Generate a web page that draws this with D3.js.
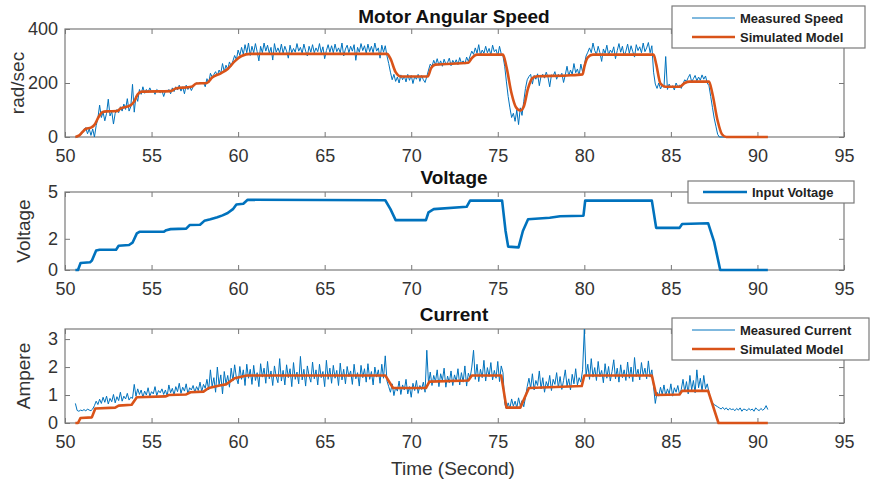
<!DOCTYPE html>
<html>
<head>
<meta charset="utf-8">
<script src="https://cdn.jsdelivr.net/npm/d3@7"></script>
<style>
  body { margin: 0; background: #fff; }
  svg { display: block; font-family: "Liberation Sans", Arial, sans-serif; }
  .tick text { fill: #333; font-size: 18px; }
  .tick line { stroke: #777; }
</style>
</head>
<body>
<div id="chart"></div>
<script>
(function() {
  // sample clock of the measured signals
  var T0 = 50.6, DT = 0.1;
  var xTicks = [50, 55, 60, 65, 70, 75, 80, 85, 90, 95];

  // measured speed, rad/sec, one row per second
  var speedMeasured = [
    0,0,3,8,15,28,35,12,30,6,
    30,0,42,70,118,72,92,60,88,140,
    78,95,48,88,102,90,112,96,122,102,
    142,96,112,195,92,152,132,176,158,186,
    162,176,166,182,168,172,158,176,170,164,
    172,150,170,168,176,160,182,168,186,174,
    192,170,186,160,192,176,188,172,186,196,
    200,198,202,200,202,186,216,200,236,222,
    232,242,226,248,236,272,242,266,250,278,
    262,282,302,286,322,302,332,306,342,312,
    348,302,336,312,346,316,282,336,312,348,
    318,340,310,332,285,346,314,330,312,344,
    310,336,318,292,340,312,328,314,346,318,
    332,310,344,318,300,336,314,342,312,330,
    316,346,312,334,290,320,342,314,338,312,
    344,316,330,312,348,300,326,340,312,336,
    318,342,284,332,314,346,320,338,310,344,
    316,336,312,348,318,330,292,340,314,338,
    300,272,240,212,232,206,222,200,230,212,
    226,204,232,210,228,198,224,214,232,206,
    228,212,202,224,248,270,262,284,268,290,
    266,282,262,288,270,276,292,264,284,272,
    286,268,294,274,282,270,296,280,300,318,
    306,330,310,342,304,322,310,336,312,328,
    304,340,316,324,300,336,308,300,262,204,
    150,108,72,88,58,100,46,108,80,132,
    180,212,224,232,196,228,214,234,190,226,
    232,218,240,222,186,230,226,242,214,232,
    224,236,202,230,262,226,248,232,272,238,
    252,228,270,240,268,300,314,330,312,348,
    320,306,336,312,280,326,310,340,304,322,
    312,334,290,320,346,314,336,300,318,344,
    310,338,316,296,342,320,334,312,348,316,
    330,350,312,338,240,196,180,200,178,192,
    184,298,176,196,182,190,174,200,186,192,
    180,198,212,206,220,232,204,216,228,208,
    222,210,230,214,226,200,190,150,110,70,
    40,10,0,0,0,0,0,0,0,0,
    0,0,0,0,0,0,0,0,0,0,
    0,0,0,0,0,0,0,0,0,0,
    0
  ];

  // simulated speed, [time, rad/sec]
  var speedModel = [
    [50.6,0],[50.8,5],[51.0,18],[51.2,30],[51.5,35],[51.7,45],[51.95,75],[52.15,92],
    [52.4,95],[53.0,96],[53.2,105],[53.8,118],[54.0,132],[54.2,158],[54.45,168],
    [56.1,170],[56.4,180],[57.3,186],[57.6,198],[58.2,200],[58.5,220],[59.0,236],
    [59.4,252],[59.8,280],[60.2,300],[60.7,308],[68.6,308],[68.8,290],[69.1,240],
    [69.4,224],[70.95,224],[71.15,255],[71.4,268],[73.3,275],[73.5,292],[73.8,305],
    [75.3,305],[75.5,260],[75.8,160],[76.05,110],[76.3,98],[76.5,112],[76.75,180],
    [77.0,218],[77.3,225],[79.0,228],[79.9,232],[80.0,260],[80.2,295],[80.5,305],
    [84.0,305],[84.15,270],[84.4,198],[84.7,186],[85.5,186],[85.8,200],[86.1,205],
    [87.2,205],[87.4,160],[87.7,60],[87.95,10],[88.2,0],[90.6,0]
  ];

  // input voltage, [time, volt]
  var voltage = [
    [50.6,0],[50.75,0],[50.9,0.45],[51.45,0.5],[51.55,0.6],[51.8,1.25],[52.0,1.3],
    [52.95,1.3],[53.1,1.55],[53.7,1.6],[53.9,1.75],[54.15,2.35],[54.3,2.45],[55.7,2.45],
    [55.85,2.55],[56.1,2.62],[57.0,2.65],[57.2,2.88],[57.8,2.9],[58.05,3.15],[58.4,3.25],
    [58.8,3.38],[59.1,3.5],[59.4,3.65],[59.7,3.9],[59.9,4.2],[60.3,4.25],[60.55,4.5],
    [68.5,4.47],[68.8,3.9],[69.1,3.2],[70.85,3.2],[71.0,3.7],[71.3,3.9],[73.2,4.05],
    [73.4,4.45],[75.25,4.45],[75.45,2.5],[75.6,1.5],[76.2,1.45],[76.45,2.5],[76.75,3.25],
    [78.0,3.35],[78.6,3.45],[79.95,3.48],[80.05,4.45],[83.9,4.45],[84.15,2.7],[85.5,2.7],
    [85.65,2.95],[87.15,3.0],[87.5,1.8],[87.85,0],[90.6,0]
  ];

  // measured current, ampere, one row per second
  var currentMeasured = [
    0.70,0.45,0.42,0.46,0.44,0.48,0.43,0.50,0.46,0.44,
    0.50,0.62,0.78,0.66,0.85,0.70,0.92,0.74,0.96,0.68,
    0.88,0.76,1.02,0.72,0.94,0.80,1.10,0.78,0.96,0.86,
    1.06,0.82,0.92,0.88,1.38,0.96,1.22,1.02,1.18,0.92,
    1.14,1.00,1.26,0.96,1.12,1.04,1.30,0.98,1.16,1.08,
    1.22,1.02,1.18,0.96,1.36,1.08,1.24,1.00,1.30,1.12,
    1.42,1.06,1.28,1.14,1.40,1.04,1.26,1.18,1.34,1.10,
    1.30,1.16,1.46,1.12,1.38,1.24,1.56,1.18,1.90,1.30,
    1.62,1.10,2.00,1.36,1.72,1.04,1.84,1.40,1.70,1.28,
    1.96,1.50,2.08,1.62,1.40,2.02,1.56,1.90,1.34,2.10,
    1.60,1.92,1.38,2.06,1.52,1.80,1.30,2.12,1.64,1.96,
    1.42,2.20,1.58,1.86,1.34,2.04,1.66,1.44,2.30,1.50,
    1.88,1.36,2.08,1.62,1.94,1.30,2.16,1.56,1.82,1.40,
    2.38,1.54,1.92,1.32,2.04,1.68,1.46,2.18,1.58,1.90,
    1.36,2.10,1.62,1.84,1.30,2.24,1.56,1.96,1.42,2.06,
    1.60,1.88,1.34,2.14,1.54,1.92,1.40,2.02,1.66,1.86,
    1.38,2.10,1.58,1.80,1.32,2.06,1.62,1.94,1.46,2.12,
    1.56,1.84,1.36,2.00,1.64,1.90,1.42,2.10,1.60,2.40,
    1.50,1.30,1.10,1.40,0.98,1.28,1.14,1.50,1.02,1.36,
    1.18,1.56,1.04,1.30,0.92,1.42,1.16,1.52,1.06,1.34,
    1.20,1.46,1.10,2.60,1.40,1.82,1.34,1.70,1.48,1.90,
    1.30,1.76,1.52,1.96,1.28,1.68,1.44,1.86,1.34,1.72,
    1.50,1.94,1.36,1.80,1.46,2.04,1.32,1.78,1.60,2.00,
    2.60,1.56,2.10,1.48,1.92,1.62,2.24,1.50,1.98,1.66,
    2.16,1.54,1.88,1.60,2.20,1.48,2.04,1.80,0.70,0.50,
    0.72,0.52,0.86,0.60,0.78,0.54,0.90,0.62,0.80,0.58,
    0.92,1.30,1.60,1.24,1.76,1.18,1.52,1.34,1.86,1.22,
    1.62,1.10,1.48,1.30,1.70,1.16,1.56,1.38,1.80,1.26,
    1.66,1.20,1.52,1.90,1.32,1.58,1.18,1.74,1.40,1.94,
    1.36,1.62,1.46,1.90,3.35,1.70,2.10,1.56,2.30,1.64,
    1.98,1.52,2.20,1.66,1.88,1.44,2.12,1.60,2.02,1.50,
    1.84,2.26,1.58,1.96,1.46,2.08,1.62,1.90,1.52,2.18,
    1.60,2.00,1.48,2.34,1.66,1.92,1.54,2.16,1.70,1.96,
    1.58,2.22,1.64,1.90,1.30,0.70,1.10,0.96,1.28,1.02,
    1.36,0.98,1.22,1.04,1.40,0.96,1.26,1.10,1.34,1.02,
    1.20,1.56,1.12,1.48,1.04,1.70,1.18,1.52,1.08,1.90,
    1.26,1.60,1.14,1.70,1.22,1.40,1.10,0.80,0.72,0.66,
    0.62,0.58,0.54,0.50,0.56,0.48,0.54,0.46,0.52,0.48,
    0.50,0.44,0.52,0.46,0.54,0.42,0.50,0.48,0.44,0.52,
    0.46,0.50,0.42,0.54,0.48,0.44,0.52,0.46,0.50,0.62,
    0.48
  ];

  // simulated current, [time, ampere]
  var currentModel = [
    [50.6,0],[50.75,0],[50.9,0.18],[51.55,0.2],[51.75,0.52],[52.9,0.55],[53.1,0.62],
    [53.85,0.65],[54.15,0.92],[55.8,0.95],[56.0,1.0],[57.0,1.02],[57.25,1.1],[58.0,1.12],
    [58.3,1.25],[59.0,1.35],[59.3,1.38],[59.8,1.6],[60.5,1.7],[68.5,1.7],[68.95,1.25],
    [70.85,1.25],[71.05,1.48],[73.3,1.52],[73.5,1.7],[75.2,1.7],[75.5,0.55],[76.3,0.55],
    [76.8,1.25],[79.85,1.32],[80.0,1.7],[83.9,1.7],[84.15,1.0],[85.5,1.02],[85.65,1.15],
    [87.15,1.15],[87.75,0],[90.6,0]
  ];

  var BLUE = '#0072BD', ORANGE = '#D95319', BOX = '#7a7a7a';
  var W = 870, H = 481;

  var svg = d3.select('#chart').append('svg').attr('width', W).attr('height', H);
  var x = d3.scaleLinear().domain([50, 95]).range([65, 844]);
  var fmt = d3.format('~g');

  function sampled(values) {
    return values.map(function(v, i) { return [T0 + i * DT, v]; });
  }

  function panel(o) {
    var y = d3.scaleLinear().domain(o.ydom).range([o.bottom, o.top]);
    var g = svg.append('g');

    // inward MATLAB-style ticks on all four sides
    g.append('g').attr('transform', 'translate(0,' + o.bottom + ')')
      .call(d3.axisBottom(x).tickValues(xTicks).tickSize(-5).tickSizeOuter(0).tickPadding(12).tickFormat(fmt));
    g.append('g').attr('transform', 'translate(0,' + o.top + ')')
      .call(d3.axisTop(x).tickValues(xTicks).tickSize(-5).tickSizeOuter(0).tickFormat(''));
    g.append('g').attr('transform', 'translate(65,0)')
      .call(d3.axisLeft(y).tickValues(o.yticks).tickSize(-5).tickSizeOuter(0).tickPadding(7).tickFormat(fmt));
    g.append('g').attr('transform', 'translate(844,0)')
      .call(d3.axisRight(y).tickValues(o.yticks).tickSize(-5).tickSizeOuter(0).tickFormat(''));
    g.selectAll('.domain').remove();

    g.append('rect').attr('x', 65).attr('y', o.top)
      .attr('width', 779).attr('height', o.bottom - o.top)
      .attr('fill', 'none').attr('stroke', BOX).attr('stroke-width', 1.2);

    o.lines.forEach(function(l) {
      var line = d3.line().x(function(d) { return x(d[0]); }).y(function(d) { return y(d[1]); });
      if (l.smooth) line.curve(d3.curveMonotoneX);
      g.append('path').datum(l.data).attr('d', line)
        .attr('fill', 'none').attr('stroke', l.color).attr('stroke-width', l.width)
        .attr('stroke-linejoin', 'round');
    });

    g.append('text').attr('x', 454).attr('y', o.titleY).attr('text-anchor', 'middle')
      .attr('font-size', 19).attr('font-weight', 'bold').attr('fill', '#111').text(o.title);
    g.append('text').attr('transform', 'translate(' + o.ylabX + ',' + ((o.top + o.bottom) / 2) + ') rotate(-90)')
      .attr('text-anchor', 'middle').attr('font-size', 19).attr('fill', '#333').text(o.ylabel);

    // legend
    var lg = o.legend;
    var lb = g.append('g');
    lb.append('rect').attr('x', lg.x).attr('y', lg.y).attr('width', lg.w).attr('height', lg.h)
      .attr('fill', '#fff').attr('stroke', BOX).attr('stroke-width', 1.2);
    lg.items.forEach(function(it, i) {
      var yy = lg.y + lg.first + i * 19;
      lb.append('line').attr('x1', lg.x + lg.l0).attr('x2', lg.x + lg.l1).attr('y1', yy).attr('y2', yy)
        .attr('stroke', it.color).attr('stroke-width', it.width);
      lb.append('text').attr('x', lg.x + lg.l1 + 5).attr('y', yy).attr('dy', '0.35em')
        .attr('font-size', 13).attr('font-weight', 'bold').attr('fill', '#222').text(it.label);
    });
  }

  panel({
    top: 29, bottom: 137, ydom: [0, 400], yticks: [0, 200, 400],
    title: 'Motor Angular Speed', titleY: 23, ylabel: 'rad/sec', ylabX: 24,
    lines: [
      { data: sampled(speedMeasured), color: BLUE, width: 1 },
      { data: speedModel, color: ORANGE, width: 2.6, smooth: true }
    ],
    legend: { x: 672, y: 6, w: 193, h: 42, first: 12, l0: 20, l1: 63, items: [
      { label: 'Measured Speed', color: BLUE, width: 1 },
      { label: 'Simulated Model', color: ORANGE, width: 2.6 }
    ] }
  });

  panel({
    top: 192, bottom: 270, ydom: [0, 5], yticks: [0, 2, 5],
    title: 'Voltage', titleY: 184, ylabel: 'Voltage', ylabX: 30,
    lines: [
      { data: voltage, color: BLUE, width: 2.6 }
    ],
    legend: { x: 688, y: 181, w: 166, h: 22, first: 11, l0: 15, l1: 59, items: [
      { label: 'Input Voltage', color: BLUE, width: 2.6 }
    ] }
  });

  panel({
    top: 329, bottom: 423, ydom: [0, 3.36], yticks: [0, 1, 2, 3],
    title: 'Current', titleY: 321, ylabel: 'Ampere', ylabX: 30,
    lines: [
      { data: sampled(currentMeasured), color: BLUE, width: 1 },
      { data: currentModel, color: ORANGE, width: 2.6 }
    ],
    legend: { x: 672, y: 318, w: 197, h: 42, first: 12, l0: 20, l1: 63, items: [
      { label: 'Measured Current', color: BLUE, width: 1 },
      { label: 'Simulated Model', color: ORANGE, width: 2.6 }
    ] }
  });

  svg.append('text').attr('x', 453).attr('y', 475).attr('text-anchor', 'middle')
    .attr('font-size', 19).attr('fill', '#333').text('Time (Second)');
}).call(this);
</script>
</body>
</html>
